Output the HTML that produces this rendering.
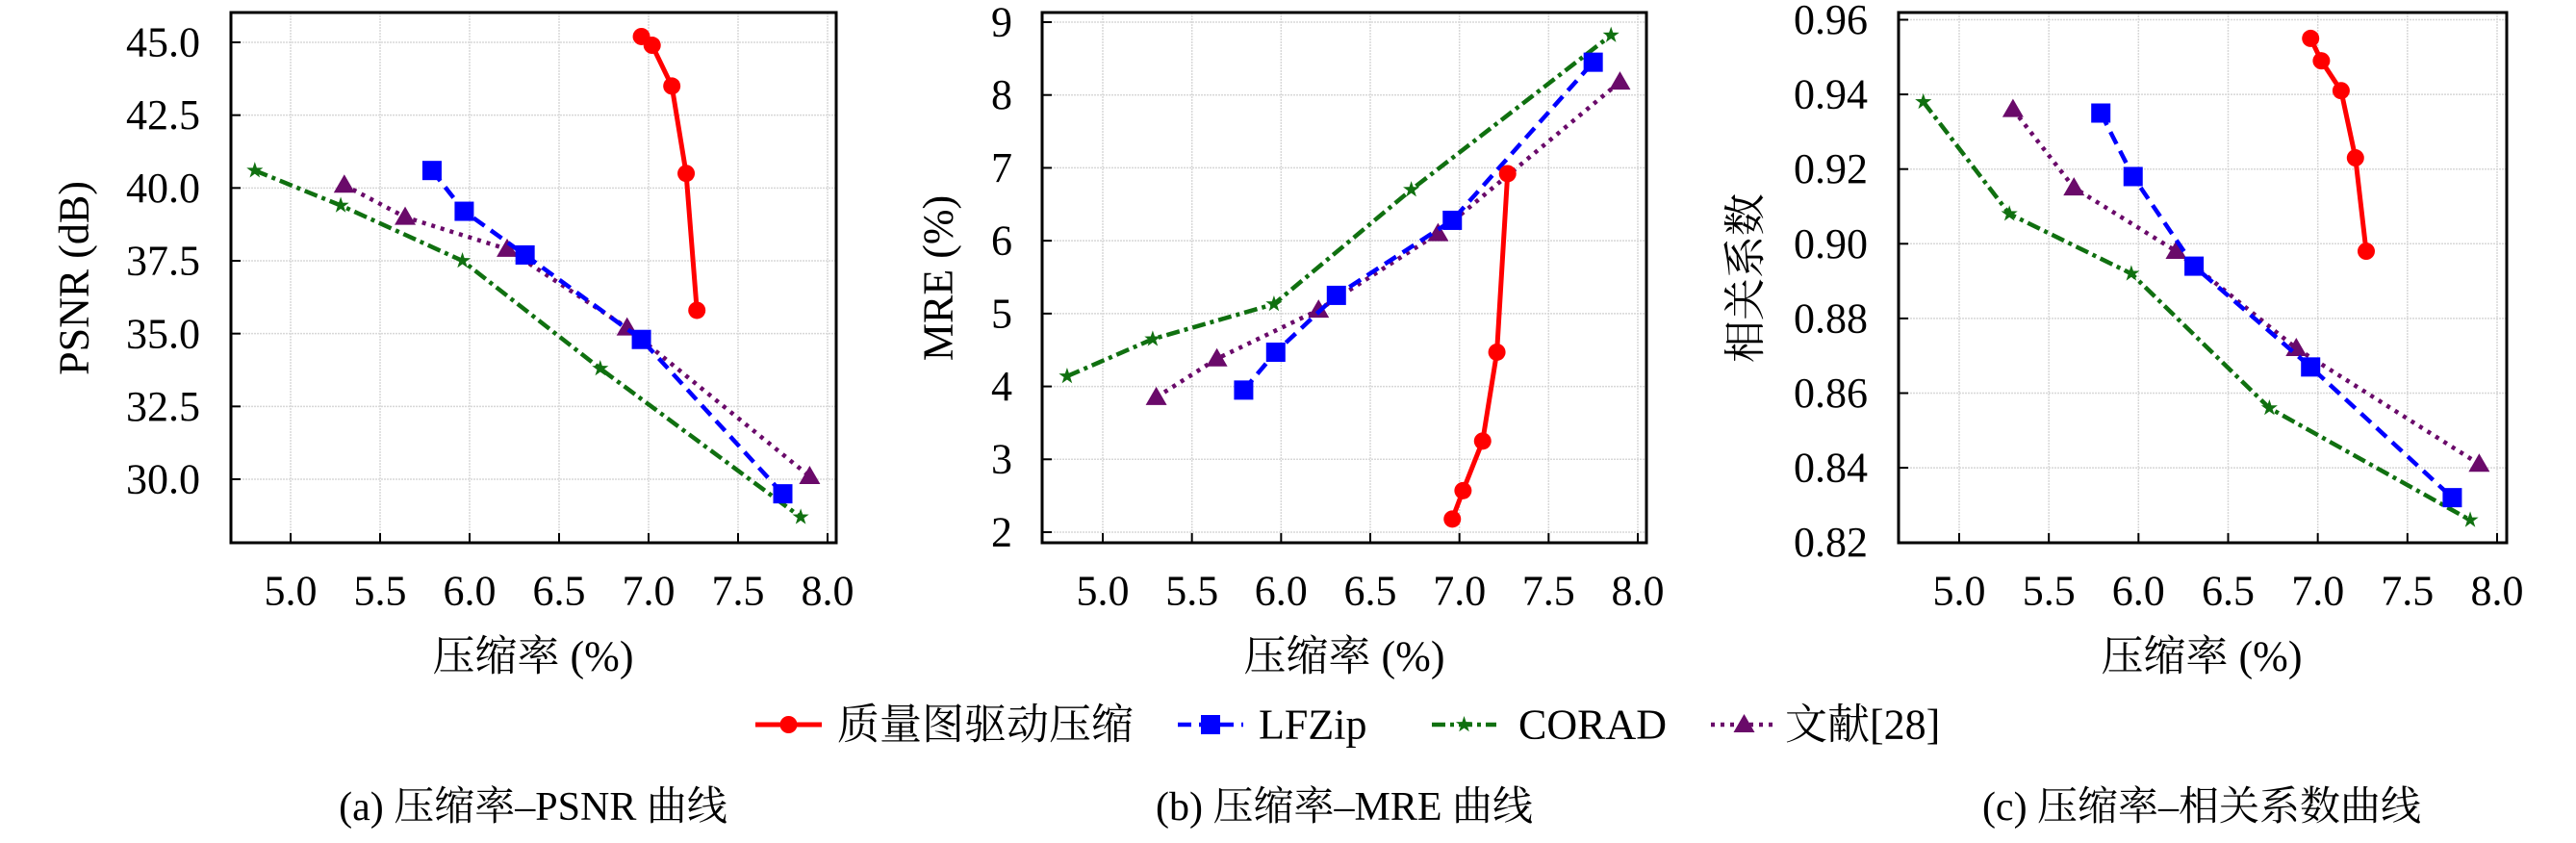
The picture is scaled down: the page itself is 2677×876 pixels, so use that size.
<!DOCTYPE html>
<html><head><meta charset="utf-8"><style>
html,body{margin:0;padding:0;background:#fff;}
text{font-family:"Liberation Serif","Noto Serif CJK SC","DejaVu Serif",serif !important;fill:#000;}
</style></head><body>
<svg id="s" width="2677" height="871" xmlns="http://www.w3.org/2000/svg">
<g font-size="44" font-family="'Liberation Serif','Noto Serif CJK SC',serif">
<g text-anchor="end" dominant-baseline="central">
<text x="208" y="44">45.0</text><text x="208" y="119.7">42.5</text><text x="208" y="195.4">40.0</text><text x="208" y="271.1">37.5</text><text x="208" y="346.8">35.0</text><text x="208" y="422.5">32.5</text><text x="208" y="498">30.0</text>
<text x="1052" y="23">9</text><text x="1052" y="98.7">8</text><text x="1052" y="174.4">7</text><text x="1052" y="250.1">6</text><text x="1052" y="325.8">5</text><text x="1052" y="401.5">4</text><text x="1052" y="477.2">3</text><text x="1052" y="553">2</text>
<text x="1941" y="20.5">0.96</text><text x="1941" y="98.1">0.94</text><text x="1941" y="175.7">0.92</text><text x="1941" y="253.3">0.90</text><text x="1941" y="330.9">0.88</text><text x="1941" y="408.5">0.86</text><text x="1941" y="486.1">0.84</text><text x="1941" y="563.7">0.82</text>
</g>
<g text-anchor="middle" dominant-baseline="central">
<text x="302" y="614">5.0</text><text x="395" y="614">5.5</text><text x="488" y="614">6.0</text><text x="581" y="614">6.5</text><text x="674" y="614">7.0</text><text x="767" y="614">7.5</text><text x="860" y="614">8.0</text>
<text x="1146" y="614">5.0</text><text x="1238.7" y="614">5.5</text><text x="1331.3" y="614">6.0</text><text x="1424" y="614">6.5</text><text x="1516.7" y="614">7.0</text><text x="1609.3" y="614">7.5</text><text x="1702" y="614">8.0</text>
<text x="2036" y="614">5.0</text><text x="2129.2" y="614">5.5</text><text x="2222.3" y="614">6.0</text><text x="2315.5" y="614">6.5</text><text x="2408.7" y="614">7.0</text><text x="2501.8" y="614">7.5</text><text x="2595" y="614">8.0</text>
<text x="554" y="682">压缩率 (%)</text><text x="1397" y="682">压缩率 (%)</text><text x="2288" y="682">压缩率 (%)</text>
<text transform="translate(77,289) rotate(-90)">PSNR (dB)</text>
<text transform="translate(975,289) rotate(-90)">MRE (%)</text>
<text transform="translate(1814,289) rotate(-90)">相关系数</text>
<text x="554" y="839" font-size="42">(a) 压缩率–PSNR 曲线</text>
<text x="1397" y="839" font-size="42">(b) 压缩率–MRE 曲线</text>
<text x="2288" y="839" font-size="42">(c) 压缩率–相关系数曲线</text>
</g>
<g dominant-baseline="central" font-size="44">
<text x="870" y="753">质量图驱动压缩</text>
<text x="1308" y="753">LFZip</text>
<text x="1578" y="753">CORAD</text>
<text x="1855" y="753">文献[28]</text>
</g>
</g>
<g id="plots"></g>
</svg>
<script>
const NS="http://www.w3.org/2000/svg";
const P=document.getElementById('plots');
function el(t,a){const e=document.createElementNS(NS,t);for(const k in a)e.setAttribute(k,a[k]);P.appendChild(e);return e;}
const panels=[
 {L:240,R:869,T:13,B:564,x0:302,x1:860,yv0:45,yp0:44,yv1:30,yp1:498,yt:[45,42.5,40,37.5,35,32.5,30]},
 {L:1083,R:1711,T:13,B:564,x0:1146,x1:1702,yv0:9,yp0:23,yv1:2,yp1:553,yt:[9,8,7,6,5,4,3,2]},
 {L:1973,R:2605,T:13,B:564,x0:2036,x1:2595,yv0:0.96,yp0:20.5,yv1:0.82,yp1:563.7,yt:[0.96,0.94,0.92,0.90,0.88,0.86,0.84,0.82]}
];
const series=[
 {c:'#ff0000',d:'',w:5,m:'o',x:[6.96,7.02,7.13,7.21,7.27],y:[[45.2,44.9,43.5,40.5,35.8],[2.18,2.57,3.25,4.47,6.92],[0.955,0.949,0.941,0.923,0.898]]},
 {c:'#0000ff',d:'14 8',w:4.5,m:'s',x:[5.79,5.97,6.31,6.96,7.75],y:[[40.6,39.2,37.7,34.8,29.5],[3.95,4.47,5.25,6.28,8.45],[0.935,0.918,0.894,0.867,0.832]]},
 {c:'#107010',d:'14 5 4 5',w:4.5,m:'*',x:[4.8,5.28,5.96,6.73,7.85],y:[[40.6,39.4,37.5,33.8,28.7],[4.14,4.65,5.13,6.7,8.82],[0.938,0.908,0.892,0.856,0.826]]},
 {c:'#6a0a6a',d:'4 6',w:4.5,m:'^',x:[5.3,5.64,6.21,6.88,7.9],y:[[40.1,39.0,37.9,35.2,30.1],[3.85,4.38,5.05,6.1,8.18],[0.936,0.915,0.898,0.872,0.841]]}
];
function marker(m,x,y,c){
 if(m=='o')el('circle',{cx:x,cy:y,r:9,fill:c});
 else if(m=='s')el('rect',{x:x-10,y:y-10,width:20,height:20,fill:c});
 else if(m=='^')el('polygon',{points:`${x},${y-11} ${x-11},${y+8} ${x+11},${y+8}`,fill:c});
 else{let p=[];for(let i=0;i<10;i++){const r=i%2?3.5:9,a=-Math.PI/2+i*Math.PI/5;p.push((x+r*Math.cos(a))+','+(y+r*Math.sin(a)));}el('polygon',{points:p.join(' '),fill:c});}
}
panels.forEach((p,pi)=>{
 const sx=v=>p.x0+(v-5)*(p.x1-p.x0)/3;
 const sy=v=>p.yp0+(v-p.yv0)*(p.yp1-p.yp0)/(p.yv1-p.yv0);
 for(let v=5;v<=8.01;v+=0.5){const x=sx(v);el('line',{x1:x,x2:x,y1:p.T,y2:p.B,stroke:'#d8d8d8','stroke-width':1.5,'stroke-dasharray':'2 1'});el('line',{x1:x,x2:x,y1:p.B,y2:p.B-10,stroke:'#000','stroke-width':2});}
 p.yt.forEach(v=>{const y=sy(v);el('line',{x1:p.L,x2:p.R,y1:y,y2:y,stroke:'#d8d8d8','stroke-width':1.5,'stroke-dasharray':'2 1'});el('line',{x1:p.L,x2:p.L+10,y1:y,y2:y,stroke:'#000','stroke-width':2});});
 el('rect',{x:p.L,y:p.T,width:p.R-p.L,height:p.B-p.T,fill:'none',stroke:'#000','stroke-width':3});
 series.slice().reverse().forEach(s=>{
  const pts=s.x.map((x,i)=>sx(x)+','+sy(s.y[pi][i])).join(' ');
  const a={points:pts,fill:'none',stroke:s.c,'stroke-width':s.w,'stroke-linejoin':'round'};
  if(s.d)a['stroke-dasharray']=s.d;
  el('polyline',a);
  s.x.forEach((x,i)=>marker(s.m,sx(x),sy(s.y[pi][i]),s.c));
 });
});
const lg=[[785,854,0],[1224,1292,1],[1488,1555,2],[1778,1847,3]];
lg.forEach(([a,b,i])=>{const s=series[i];const at={x1:a,x2:b,y1:753,y2:753,stroke:s.c,'stroke-width':s.w};if(s.d)at['stroke-dasharray']=s.d;el('line',at);marker(s.m,(a+b)/2,753,s.c);});
</script>
</body></html>
